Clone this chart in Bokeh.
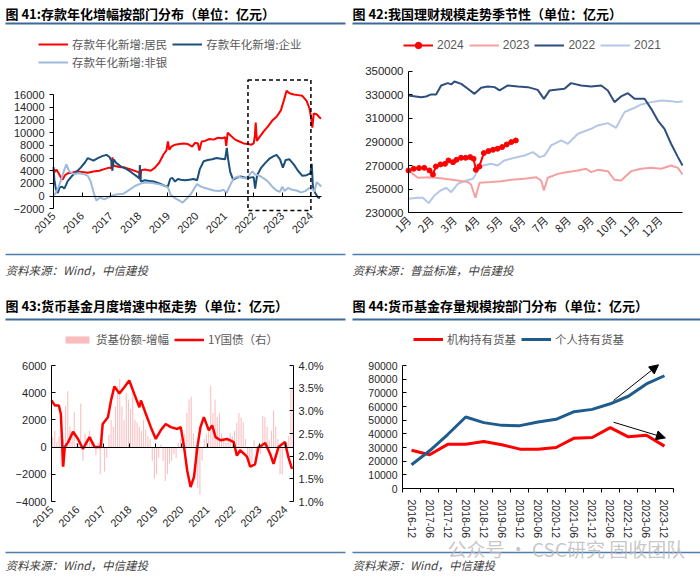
import math
from bokeh.plotting import figure
from bokeh.layouts import row, column
from bokeh.models import (Range1d, LinearAxis, FixedTicker, Legend, LegendItem, Label,
                          BoxAnnotation, Arrow, NormalHead, PrintfTickFormatter)
from bokeh.embed import file_html
from bokeh.resources import INLINE

# ---------------- data: panel 41 (deposits, annualised increase, 亿元) ----------------
years = list(range(2015, 2025))
year_labels = [str(y) for y in years]

hh_x = [2015.00, 2015.05, 2015.10, 2015.18, 2015.25, 2015.32, 2015.40, 2015.50, 2015.65, 2015.80,
        2016.00, 2016.20, 2016.40, 2016.60, 2016.80, 2016.95, 2017.02, 2017.06, 2017.10, 2017.30,
        2017.50, 2017.70, 2017.90, 2018.00, 2018.03, 2018.07, 2018.20, 2018.40, 2018.55, 2018.70,
        2018.85, 2018.95, 2019.00, 2019.05, 2019.12, 2019.25, 2019.40, 2019.55, 2019.70, 2019.85,
        2019.95, 2020.05, 2020.10, 2020.18, 2020.30, 2020.45, 2020.60, 2020.75, 2020.90, 2021.00,
        2021.04, 2021.09, 2021.20, 2021.35, 2021.50, 2021.65, 2021.80, 2021.92, 2022.00, 2022.04,
        2022.07, 2022.11, 2022.20, 2022.35, 2022.50, 2022.65, 2022.80, 2022.95, 2023.05, 2023.15,
        2023.25, 2023.40, 2023.55, 2023.70, 2023.85, 2023.95, 2024.02, 2024.05, 2024.10, 2024.20,
        2024.28, 2024.35]
hh_y = [4300, 3800, 4200, 3600, 3000, 2600, 3300, 3600, 3700, 3900,
        3800, 3700, 3900, 4000, 4300, 4500, 4400, 6100, 4800, 4600,
        4500, 4200, 3900, 3700, 2600, 4100, 4200, 4000, 4500, 5300,
        6600, 7200, 8600, 7300, 7800, 8100, 8200, 8300, 8200, 7800,
        8400, 8300, 7200, 8600, 8700, 9000, 8900, 9200, 9100, 9300,
        7900, 10000, 9500, 8900, 8600, 8300, 8200, 8100, 8300, 9500,
        11600, 8700, 9300, 10200, 11000, 11900, 12500, 13500, 15000, 16600,
        16200, 16000, 15900, 15800, 15000, 13800, 12000, 10800, 13000, 12900,
        12500, 12200]

corp_x = [2015.00, 2015.03, 2015.08, 2015.15, 2015.22, 2015.30, 2015.38, 2015.50, 2015.65, 2015.80,
          2015.95, 2016.10, 2016.20, 2016.30, 2016.40, 2016.55, 2016.70, 2016.85, 2016.95, 2017.02,
          2017.06, 2017.10, 2017.20, 2017.35, 2017.50, 2017.65, 2017.80, 2017.95, 2018.00, 2018.02,
          2018.05, 2018.20, 2018.35, 2018.50, 2018.70, 2018.90, 2019.00, 2019.08, 2019.15, 2019.25,
          2019.35, 2019.45, 2019.60, 2019.75, 2019.90, 2020.02, 2020.12, 2020.25, 2020.40, 2020.55,
          2020.70, 2020.85, 2021.00, 2021.06, 2021.10, 2021.18, 2021.28, 2021.40, 2021.55, 2021.70,
          2021.85, 2022.00, 2022.05, 2022.12, 2022.25, 2022.40, 2022.55, 2022.70, 2022.80, 2022.92,
          2023.02, 2023.12, 2023.25, 2023.40, 2023.55, 2023.70, 2023.85, 2023.98, 2024.03, 2024.07,
          2024.15, 2024.25, 2024.32]
corp_y = [4600, 2600, 1200, 500, 1400, 1500, 1200, 2400, 3200, 3800,
          4500, 5300, 6000, 5800, 5600, 6000, 6300, 6500, 6200, 5600,
          4000, 5800, 5200, 4700, 4400, 4000, 3500, 3000, 2800, 4900,
          2300, 2500, 2400, 2300, 2000, 1600, 1500, 2700, 2900, 2300,
          2700, 2600, 2500, 2600, 2700, 2500, 4300, 5500, 5700, 5800,
          6000, 5900, 5800, 7600, 6000, 3800, 2600, 2900, 3100, 2900,
          2900, 3000, 1200, 3300, 4400, 5200, 5900, 6300, 6500, 5800,
          4500, 5700, 5800, 5000, 4000, 3200, 3300, 3600, 5100, 1500,
          500, -200, -300]

nb_x = [2015.00, 2015.08, 2015.18, 2015.28, 2015.38, 2015.45, 2015.55, 2015.70, 2015.90, 2016.05,
        2016.20, 2016.30, 2016.40, 2016.50, 2016.62, 2016.78, 2016.92, 2017.05, 2017.25, 2017.45,
        2017.65, 2017.85, 2018.00, 2018.15, 2018.40, 2018.65, 2018.85, 2019.00, 2019.10, 2019.25,
        2019.40, 2019.52, 2019.65, 2019.80, 2019.92, 2020.02, 2020.15, 2020.30, 2020.45, 2020.60,
        2020.80, 2020.95, 2021.05, 2021.15, 2021.30, 2021.45, 2021.60, 2021.75, 2021.95, 2022.05,
        2022.15, 2022.25, 2022.35, 2022.50, 2022.65, 2022.80, 2022.92, 2023.00, 2023.08, 2023.20,
        2023.35, 2023.50, 2023.65, 2023.80, 2023.95, 2024.05, 2024.12, 2024.20, 2024.30, 2024.36]
nb_y = [100, 500, 1500, 2800, 4200, 5000, 3900, 3500, 3600, 3500,
        3200, 2300, 600, -700, -200, -500, -200, 100, 300, 400,
        1000, 1600, 1900, 2100, 2100, 1900, 1700, 1400, 200, -300,
        -700, -1000, -400, 300, 1200, 1900, 1500, 1300, 1100, 900,
        800, 1000, 500, 1500, 2800, 3100, 2900, 2800, 3900, 3400,
        3300, 3100, 2800, 2300, 1500, 900, 700, 1500, 800, 1300,
        1000, 900, 600, 800, 1300, 1100, 700, 2200, 1800, 1500]

box_left, box_right, box_bottom, box_top = 2021.8, 2024.0, -2250, 18300

# ---------------- data: panel 42 (wealth-management scale, 亿元) ----------------
month_ticks = list(range(12))
month_labels = ["1月", "2月", "3月", "4月", "5月", "6月", "7月", "8月", "9月", "10月", "11月", "12月"]

wm2022_x = [0.00, 0.55, 0.77, 0.99, 1.21, 1.43, 1.72, 1.87, 2.01, 2.31, 2.60, 2.89, 3.18, 3.47, 3.77,
            3.99, 4.35, 4.79, 5.23, 5.66, 5.93, 6.18, 6.54, 6.83, 7.12, 7.56, 8.00, 8.44, 8.73, 9.02,
            9.31, 9.61, 9.90, 10.34, 10.63, 10.92, 11.21, 11.50, 11.80, 12.00]
wm2022_y = [329400, 328000, 328600, 330300, 330300, 337900, 339900, 338800, 341300, 339300, 335100,
            330800, 335900, 337100, 336500, 333700, 337900, 337100, 336500, 334200, 326600, 333700,
            334500, 335100, 339900, 337900, 337100, 337900, 333700, 323800, 328600, 331400, 326600,
            326600, 318100, 308200, 301200, 288500, 277200, 270100]

wm2021_x = [0.00, 0.41, 0.63, 0.88, 1.14, 1.40, 1.65, 1.87, 2.16, 2.53, 2.82, 3.04, 3.26, 3.62, 3.91,
            4.20, 4.64, 5.08, 5.45, 5.74, 5.96, 6.25, 6.69, 6.98, 7.42, 8.00, 8.29, 8.73, 9.09, 9.46,
            9.90, 10.19, 10.63, 11.07, 11.50, 11.80, 12.00]
wm2021_y = [241900, 242700, 242700, 238200, 244700, 248900, 251200, 247500, 254600, 257400, 258800,
            265900, 270100, 271500, 270100, 274400, 276600, 278600, 281400, 277200, 278600, 287100,
            291300, 288500, 297000, 301200, 304000, 306000, 302000, 315300, 319000, 321800, 323800,
            325200, 324600, 323800, 324600]

wm2023_x = [0.00, 0.19, 0.41, 0.99, 1.58, 2.16, 2.60, 2.74, 2.93, 3.11, 3.62, 4.06, 4.50, 5.08, 5.59,
            5.81, 5.93, 6.10, 6.54, 6.98, 7.42, 7.78, 8.00, 8.29, 8.73, 9.02, 9.31, 9.75, 10.19, 10.63,
            11.07, 11.50, 11.80, 12.00]
wm2023_y = [266700, 263000, 259700, 260200, 258800, 257400, 256000, 254000, 242700, 255400, 256000,
            256800, 258000, 258800, 260200, 257400, 248900, 259700, 263000, 264500, 265900, 267300,
            264500, 266400, 265300, 258000, 257400, 265300, 267300, 268100, 267300, 270100, 268100,
            262500]

wm2024_x = [0.00, 0.23, 0.46, 0.69, 0.92, 1.07, 1.20, 1.40, 1.60, 1.75, 1.95, 2.10, 2.30, 2.50, 2.70,
            2.85, 2.95, 3.10, 3.30, 3.50, 3.70, 3.90, 4.10, 4.30, 4.50, 4.70]
wm2024_y = [265900, 267300, 267900, 268100, 265900, 262500, 269300, 271000, 271500, 274400, 272900,
            274900, 276600, 276600, 277200, 275800, 266400, 269300, 280600, 282300, 283400, 284300,
            285700, 287900, 289900, 291300]

# ---------------- data: panel 43 (money-fund monthly flow, 亿元; 1Y treasury, %) ----------------
mmf_flow = [700, 1200, 400, 800, -1400, 600, 3000, 4100, 1500, 800, 2600, 300,
            500, 3200, -1000, 1000, 600, 1200, 800, 400, -600, 300, -2000, 700,
            -1800, -800, 900, 2000, 1500, 3000, 4500, 5000, 3000, 2000, 4000, 3500,
            2800, 4200, 2000, 1800, 1500, 1200, 2000, 1300, 800, 600, -1000, -2300,
            -2000, -800, 200, -1000, -2500, -2000, -1200, -1000, -500, -800, 300, 600,
            800, 1000, 2500, 3500, 3700, 1000, -2000, -3000, -3500, -1000, 600, 1000,
            1500, 4500, 2500, 3500, 2200, 2500, 1000, 500, 300, 600, 1000, 800,
            1200, 1800, 2500, 2200, 1800, 600, -500, -1200, -1200, 500, -300, 200,
            -500, 2300, 2200, 1500, 500, 1200, 2700, 1500, 600, -2000, -2000, 300,
            400, 800, 4200, 4200]
mmf_x = [2015 + (i + 0.5) / 12 for i in range(len(mmf_flow))]

yld_x = [2015.00, 2015.13, 2015.28, 2015.36, 2015.45, 2015.51, 2015.64, 2015.83, 2016.02, 2016.21,
         2016.46, 2016.66, 2016.89, 2016.97, 2017.17, 2017.29, 2017.42, 2017.61, 2017.80, 2017.99,
         2018.18, 2018.38, 2018.44, 2018.63, 2018.82, 2019.01, 2019.20, 2019.39, 2019.59, 2019.84,
         2019.97, 2020.10, 2020.22, 2020.35, 2020.48, 2020.61, 2020.73, 2020.86, 2021.05, 2021.18,
         2021.31, 2021.50, 2021.75, 2022.01, 2022.13, 2022.26, 2022.52, 2022.64, 2022.83, 2022.96,
         2023.09, 2023.22, 2023.41, 2023.54, 2023.73, 2023.98, 2024.11, 2024.25]
yld_y = [3.23, 3.12, 3.12, 2.93, 1.77, 2.20, 2.31, 2.54, 2.38, 2.16,
         2.42, 2.20, 2.20, 2.71, 2.86, 3.23, 3.54, 3.38, 3.52, 3.67,
         3.38, 3.08, 3.23, 2.93, 2.64, 2.38, 2.57, 2.71, 2.64, 2.60,
         2.64, 2.20, 1.68, 1.32, 1.54, 2.20, 2.64, 2.86, 2.57, 2.68,
         2.42, 2.35, 2.38, 2.31, 2.01, 2.13, 1.99, 1.77, 1.82, 2.20,
         2.24, 2.29, 2.05, 1.83, 2.20, 2.31, 1.98, 1.72]

# ---------------- data: panel 44 (money-fund holdings by sector, 亿元) ----------------
cats = ["2016-12", "2017-06", "2017-12", "2018-06", "2018-12", "2019-06", "2019-12", "2020-06",
        "2020-12", "2021-06", "2021-12", "2022-06", "2022-12", "2023-06", "2023-12"]
inst = [28000, 24700, 32300, 32400, 34400, 32000, 28800, 28800, 30000, 36800, 37300, 44500,
        37800, 39000, 31000]
indiv = [17400, 27600, 39500, 52300, 48200, 46200, 46000, 48700, 50600, 56200, 57900, 62000,
         67500, 76500, 82500]
cat_pos = [i + 0.5 for i in range(len(cats))]
cat_edges = list(range(len(cats) + 1))
up_arrow = (11.68, 64400, 14.17, 90500)
down_arrow = (11.68, 48500, 14.55, 37000)

# ---------------- styling / layout helpers ----------------
RED = "#FF0000"
NAVY = "#1B4F7A"
LIGHTBLUE = "#9DB9DC"
RULE_TOP = "#3D6A98"
RULE_BOT = "#4E7EAD"
CJK = "Noto Sans CJK SC"
NUM = "Liberation Sans"
W = 350


def xr_from(va, pa, vb, pb):
    k = (vb - va) / (pb - pa)
    return Range1d(va - pa * k, va + (W - pa) * k)


def yr_from(va, pa, vb, pb, h):  # pixel positions measured from the top
    k = (va - vb) / (pb - pa)
    return Range1d(va - (h - pa) * k, va + pa * k)


def base(xr, yr, h):
    p = figure(width=W, height=h, x_range=xr, y_range=yr, x_axis_location=None,
               y_axis_location=None, min_border=0, min_border_left=0, min_border_right=0,
               min_border_top=0, min_border_bottom=0, output_backend="svg", toolbar_location=None)
    p.extra_x_ranges = {"px": Range1d(0, W)}
    p.extra_y_ranges = {"px": Range1d(h, 0)}
    p.grid.visible = False
    p.outline_line_color = None
    p.background_fill_color = "white"
    p.border_fill_color = "white"
    return p


def rule(p, y, x0, x1, color, thick):
    p.add_layout(BoxAnnotation(left=x0, right=x1, top=y - thick / 2, bottom=y + thick / 2,
                               x_range_name="px", y_range_name="px", fill_color=color,
                               fill_alpha=1, line_color=None))


def text(p, x, y, s, size, style="normal", color="#000000", alpha=1.0):
    p.add_layout(Label(x=x, y=y, x_range_name="px", y_range_name="px", text=s, text_font=CJK,
                       text_font_size=size, text_font_style=style, text_color=color,
                       text_alpha=alpha, text_baseline="middle", text_align="left"))


def frame_decor(p, title, source, x0, x1, title_y, top_rule_y, bot_rule_y, source_y):
    text(p, x0, title_y, title, "13px", "bold")
    rule(p, top_rule_y, x0, x1, RULE_TOP, 2)
    rule(p, bot_rule_y, x0, x1, RULE_BOT, 1.5)
    text(p, x0, source_y, source, "11.5px", "italic", "#404040")


def style_axis(ax, font=NUM, size="11px"):
    ax.axis_line_color = "#000000"
    ax.axis_line_width = 1
    ax.major_tick_line_color = "#000000"
    ax.minor_tick_line_color = None
    ax.major_label_text_font = font
    ax.major_label_text_font_size = size
    ax.major_label_text_color = "#262626"


def axis(p, side, loc, ticks, bounds, tick_in=0, tick_out=0, show_line=True, show_labels=True,
         font=NUM, size="11px", orientation="horizontal", standoff=5, range_name=None,
         formatter=None, overrides=None):
    ax = LinearAxis(fixed_location=loc, ticker=FixedTicker(ticks=ticks), bounds=bounds)
    if range_name is not None:
        ax.y_range_name = range_name
    if formatter is not None:
        ax.formatter = formatter
    style_axis(ax, font, size)
    ax.major_tick_in = tick_in
    ax.major_tick_out = tick_out
    if tick_in == 0 and tick_out == 0:
        ax.major_tick_line_color = None
    if not show_line:
        ax.axis_line_color = None
    if show_labels:
        ax.major_label_orientation = orientation
        ax.major_label_standoff = standoff
        if overrides is not None:
            ax.major_label_overrides = overrides
    else:
        ax.major_label_text_color = None
        ax.major_label_standoff = 0
    p.add_layout(ax, side)
    return ax


def legend(p, items, x, y_bottom, h, font=CJK, size="11.5px", gh=16):
    lg = Legend(items=items, location=(x, h - y_bottom), orientation="horizontal",
                border_line_color=None, background_fill_alpha=0, padding=0, margin=0, spacing=5,
                glyph_width=30, glyph_height=gh, label_height=18, label_standoff=4,
                label_text_font=font, label_text_font_size=size, label_text_color="#595959")
    p.add_layout(lg)


H1, H2 = 293, 287

# ---------------- panel 41 ----------------
p1 = base(xr_from(2015, 53, 2024, 310.4), yr_from(-2000, 208.4, 16000, 94, H1), H1)
x1_end = 2024.37
r_hh = p1.line(hh_x, hh_y, line_color=RED, line_width=2)
r_corp = p1.line(corp_x, corp_y, line_color=NAVY, line_width=2)
r_nb = p1.line(nb_x, nb_y, line_color=LIGHTBLUE, line_width=2)
p1.add_layout(BoxAnnotation(left=box_left, right=box_right, bottom=box_bottom, top=box_top,
                            fill_color=None, fill_alpha=0, line_color="black", line_alpha=1,
                            line_width=1.5, line_dash="4 3"))
axis(p1, "left", 2015, list(range(-2000, 16001, 2000)), (-2000, 16000), tick_out=4)
axis(p1, "below", 0, years, (2015, x1_end), tick_in=4, show_labels=False)
axis(p1, "below", -2300, years, (2015, x1_end), show_line=False, orientation=math.pi / 4,
     standoff=3, overrides={y: l for y, l in zip(years, year_labels)})
legend(p1, [LegendItem(label="存款年化新增:居民", renderers=[r_hh]),
            LegendItem(label="存款年化新增:企业", renderers=[r_corp])], 38, 53, H1)
legend(p1, [LegendItem(label="存款年化新增:非银", renderers=[r_nb])], 38, 71, H1)
frame_decor(p1, "图 41:存款年化增幅按部门分布（单位：亿元）", "资料来源：Wind，中信建投",
            5, 345, 12.5, 23, 254, 269)

# ---------------- panel 42 ----------------
p2 = base(xr_from(0, 58, 12, 332), yr_from(230000, 212.3, 350000, 70.7, H1), H1)
r21 = p2.line(wm2021_x, wm2021_y, line_color="#B4C7E7", line_width=2)
r22 = p2.line(wm2022_x, wm2022_y, line_color="#2F4D7E", line_width=2)
r23 = p2.line(wm2023_x, wm2023_y, line_color="#F4A0A0", line_width=2)
r24 = p2.line(wm2024_x, wm2024_y, line_color=RED, line_width=2)
r24m = p2.scatter(wm2024_x, wm2024_y, size=5, fill_color=RED, line_color=RED)
axis(p2, "left", 0, list(range(230000, 350001, 20000)), (230000, 350000), tick_in=4,
     size="11.5px", formatter=PrintfTickFormatter(format="%d"))
axis(p2, "below", 230000, month_ticks, (0, 12), orientation=math.pi / 4, font=CJK,
     standoff=5, overrides={m: l for m, l in zip(month_ticks, month_labels)})
legend(p2, [LegendItem(label="2024", renderers=[r24, r24m]),
            LegendItem(label="2023", renderers=[r23]),
            LegendItem(label="2022", renderers=[r22]),
            LegendItem(label="2021", renderers=[r21])], 53, 54, H1, font=NUM, size="12px")
frame_decor(p2, "图 42:我国理财规模走势季节性（单位：亿元）", "资料来源：普益标准，中信建投",
            2, 350, 12.5, 23, 254, 269)

# ---------------- panel 43 ----------------
x3_end = 2024.31
p3 = base(xr_from(2015, 51, 2024, 285), yr_from(-4000, 208, 6000, 72, H2), H2)
p3.extra_y_ranges = {"px": Range1d(H2, 0), "yld": yr_from(1.0, 208, 4.0, 72, H2)}
r_bar = p3.vbar(x=mmf_x, top=mmf_flow, bottom=0, width=0.04, fill_color="#F4868A",
                fill_alpha=0.55, line_color=None)
r_yld = p3.line(yld_x, yld_y, line_color=RED, line_width=2.5, y_range_name="yld")
axis(p3, "left", 2015, list(range(-4000, 6001, 2000)), (-4000, 6000), tick_in=4)
axis(p3, "right", x3_end, [1.0, 1.5, 2.0, 2.5, 3.0, 3.5, 4.0], (1.0, 4.0), tick_in=4,
     range_name="yld", formatter=PrintfTickFormatter(format="%.1f%%"))
axis(p3, "below", 0, years, (2015, x3_end), tick_in=4, show_labels=False)
axis(p3, "below", -4000, years, (2015, x3_end), show_line=False, orientation=math.pi / 4,
     standoff=6, overrides={y: l for y, l in zip(years, year_labels)})
legend(p3, [LegendItem(label="货基份额-增幅", renderers=[r_bar]),
            LegendItem(label="1Y国债（右）", renderers=[r_yld])], 62, 55, H2, gh=9)
frame_decor(p3, "图 43:货币基金月度增速中枢走势（单位：亿元）", "资料来源：Wind，中信建投",
            5, 345, 12, 26, 259, 271)

# ---------------- panel 44 ----------------
p4 = base(xr_from(0, 52, 15, 323), yr_from(0, 195, 90000, 72, H2), H2)
r_inst = p4.line(cat_pos, inst, line_color=RED, line_width=3)
r_ind = p4.line(cat_pos, indiv, line_color="#1F5C8E", line_width=3)
for a in (up_arrow, down_arrow):
    p4.add_layout(Arrow(end=NormalHead(size=9, fill_color="black", line_color="black"),
                        x_start=a[0], y_start=a[1], x_end=a[2], y_end=a[3],
                        line_color="black", line_width=1))
axis(p4, "left", 0, list(range(0, 90001, 10000)), (0, 90000), tick_in=4, size="10.5px")
ax4 = axis(p4, "below", 0, cat_pos, (0, 15), orientation="vertical", size="10.5px", standoff=7,
           overrides={c: l for c, l in zip(cat_pos, cats)})
ax4.ticker = FixedTicker(ticks=cat_pos, minor_ticks=cat_edges)
ax4.minor_tick_line_color = "#000000"
ax4.minor_tick_in = 0
ax4.minor_tick_out = 4
legend(p4, [LegendItem(label="机构持有货基", renderers=[r_inst]),
            LegendItem(label="个人持有货基", renderers=[r_ind])], 63, 55, H2)
frame_decor(p4, "图 44:货币基金存量规模按部门分布（单位：亿元）", "资料来源：Wind，中信建投",
            2, 350, 12, 26, 259, 271)
text(p4, 97, 255, "公众号 · CSC研究 固收团队", "19px", color="#b8b8b8", alpha=0.8)

layout = column(row(p1, p2), row(p3, p4))

open("out.html", "w").write(file_html(layout, INLINE))
